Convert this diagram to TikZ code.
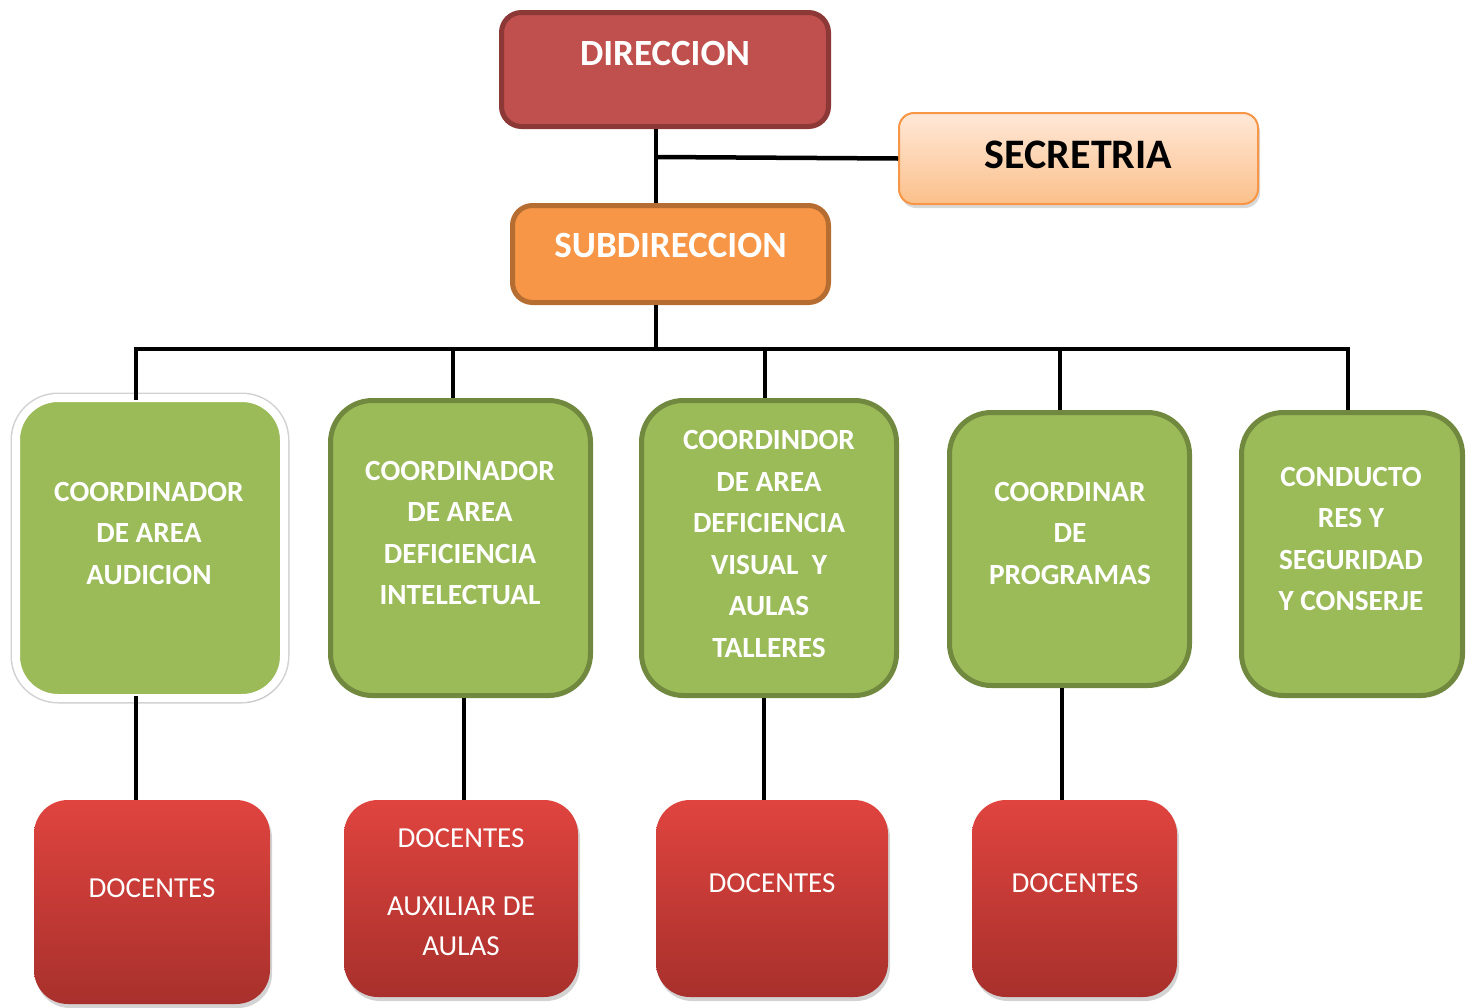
\documentclass[tikz,border=0pt]{standalone}
\usepackage{fontspec}
\setmainfont{Carlito}
\usetikzlibrary{shadows}
\definecolor{dirfill}{HTML}{C0504D}
\definecolor{dirline}{HTML}{8C3836}
\definecolor{subfill}{HTML}{F79646}
\definecolor{subline}{HTML}{B66D31}
\definecolor{sectop}{HTML}{FFE8D8}
\definecolor{secbot}{HTML}{FBC08A}
\definecolor{secline}{HTML}{F79646}
\definecolor{gfill}{HTML}{9BBB59}
\definecolor{gline}{HTML}{71893F}
\definecolor{rtop}{HTML}{E0443F}
\definecolor{rbot}{HTML}{A8302C}
\tikzset{
  topbox/.style={rounded corners=20pt, line width=5pt, inner sep=0pt},
  secbox/.style={rounded corners=15pt, line width=2pt, draw=secline, top color=sectop, bottom color=secbot, inner sep=0pt,
     drop shadow={opacity=0.3, shadow xshift=2pt, shadow yshift=-4pt}},
  gbox/.style={rounded corners=42pt, line width=5pt, draw=gline, fill=gfill, inner sep=0pt},
  wbox/.style={rounded corners=42pt, line width=8pt, draw=white, fill=gfill, inner sep=0pt,
     preaction={draw=black!18, line width=11pt},
     drop shadow={opacity=0.25, shadow xshift=2pt, shadow yshift=-4pt}},
  rbox/.style={rounded corners=34pt, top color=rtop, bottom color=rbot, inner sep=0pt,
     drop shadow={opacity=0.35, shadow xshift=2pt, shadow yshift=-4pt}},
  conn/.style={line width=4.5pt, black},
  btxt/.style={text=white, font=\bfseries\fontsize{37}{42}\selectfont},
  gtxt/.style={text=white, align=center, font=\bfseries\fontsize{29.3}{41.5}\selectfont},
  rtxt/.style={text=white, align=center, font=\fontsize{29}{40}\selectfont},
}
\begin{document}
\begin{tikzpicture}[x=1pt,y=-1pt]
\useasboundingbox (0,0) rectangle (1473,1007);
% top boxes
\node[topbox, draw=dirline, fill=dirfill, minimum width=327pt, minimum height=114pt] (dir) at (665,69.5) {};
\node[btxt] (dirt) at (665,53) {DIRECCION};
\node[secbox, minimum width=359pt, minimum height=91pt] (sec) at (1078.5,158.5) {};
\node[font=\bfseries\fontsize{42}{46}\selectfont, text=black] (sect) at (1078.5,155) {SECRETRIA};
\node[topbox, draw=subline, fill=subfill, minimum width=316pt, minimum height=97pt] (sub) at (670.5,254) {};
\node[btxt] (subt) at (670.5,245) {SUBDIRECCION};
% green boxes
\node[wbox, minimum width=268pt, minimum height=300pt] (c1) at (150,548) {};
\node[gtxt] (c1t) at (149,533) {COORDINADOR\\DE AREA\\AUDICION};
\node[gbox, minimum width=260pt, minimum height=295pt] (c2) at (460.5,548) {};
\node[gtxt] (c2t) at (460,533) {COORDINADOR\\DE AREA\\DEFICIENCIA\\INTELECTUAL};
\node[gbox, minimum width=255pt, minimum height=295pt] (c3) at (769,548) {};
\node[gtxt] (c3t) at (769,544) {COORDINDOR\\DE AREA\\DEFICIENCIA\\VISUAL\ \ Y\\AULAS\\TALLERES};
\node[gbox, minimum width=240pt, minimum height=273pt] (c4) at (1069.5,549) {};
\node[gtxt] (c4t) at (1070,533) {COORDINAR\\DE\\PROGRAMAS};
\node[gbox, minimum width=221pt, minimum height=283pt] (c5) at (1352,554) {};
\node[gtxt] (c5t) at (1351,539) {CONDUCTO\\RES Y\\SEGURIDAD\\Y CONSERJE};
% red boxes
\node[rbox, minimum width=236pt, minimum height=204pt] (d1) at (152,902) {};
\node[rtxt] (d1t) at (152,888) {DOCENTES};
\node[rbox, minimum width=234pt, minimum height=197pt] (d2) at (461,898.5) {};
\node[rtxt] (d2a) at (461,838) {DOCENTES};
\node[rtxt] (d2b) at (461,926.5) {AUXILIAR DE\\AULAS};
\node[rbox, minimum width=232pt, minimum height=197pt] (d3) at (772,898.5) {};
\node[rtxt] (d3t) at (772,883) {DOCENTES};
\node[rbox, minimum width=205pt, minimum height=197pt] (d4) at (1074.5,898.5) {};
\node[rtxt] (d4t) at (1075,883) {DOCENTES};
% connectors
\coordinate (j1) at (656,157);
\coordinate (bar) at (656,349);
\coordinate (t1) at (136,349);
\coordinate (t2) at (453,349);
\coordinate (t3) at (765,349);
\coordinate (t4) at (1060,349);
\coordinate (t5) at (1348,349);
\coordinate (b1) at (136,750);
\coordinate (b2) at (464,750);
\coordinate (b3) at (764,750);
\coordinate (b4) at (1062,750);
\draw[conn] (j1 |- dir.south) -- (j1 |- sub.north);
\draw[conn] (j1) -- (sec.west);
\draw[conn] (bar |- sub.south) -- (bar);
\draw[conn] ([xshift=-2.25pt]t1) -- ([xshift=2.25pt]t5);
\draw[conn] (t1) -- ([yshift=-6pt]t1 |- c1.north);
\draw[conn] (t2) -- (t2 |- c2.north);
\draw[conn] (t3) -- (t3 |- c3.north);
\draw[conn] (t4) -- (t4 |- c4.north);
\draw[conn] (t5) -- (t5 |- c5.north);
\draw[conn] ([yshift=6pt]b1 |- c1.south) -- (b1 |- d1.north);
\draw[conn] (b2 |- c2.south) -- (b2 |- d2.north);
\draw[conn] (b3 |- c3.south) -- (b3 |- d3.north);
\draw[conn] (b4 |- c4.south) -- (b4 |- d4.north);
\end{tikzpicture}
\end{document}
